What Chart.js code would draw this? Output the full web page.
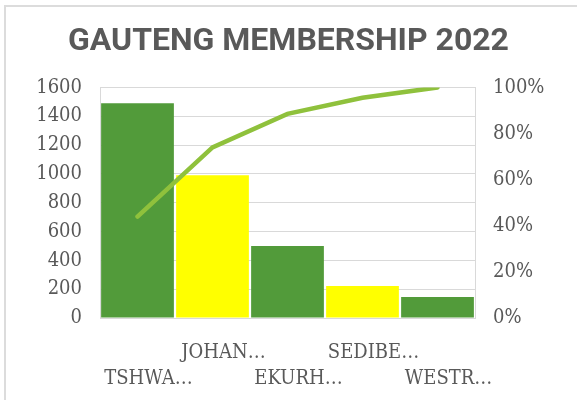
<!DOCTYPE html>
<html>
<head>
<meta charset="utf-8">
<script src="https://cdn.jsdelivr.net/npm/chart.js@4"></script>
<style>
    html, body { margin: 0; padding: 0; background: #fff; }
    #wrap { position: relative; width: 577px; height: 400px; }
    #frame { position: absolute; left: 4px; top: 5px; right: 0; bottom: 0;
             border-top: 2px solid #dcdcdc; border-left: 2px solid #dcdcdc; }
    canvas { position: absolute; left: 0; top: 0; }
</style>
</head>
<body>
<div id="wrap">
    <div id="frame"></div>
    <canvas id="paretoChart" width="577" height="400"></canvas>
</div>
<script>
// --- Data ---
const regions = ["TSHWANE", "JOHANNESBURG", "EKURHULENI", "SEDIBENG", "WESTRAND"];
const shownLabels = ["TSHWA…", "JOHAN…", "EKURH…", "SEDIBE…", "WESTR…"];
const members = [1490, 990, 500, 222, 145];
const cumulativePct = [44, 74, 88.5, 95.5, 100];
const memberTicks = [0, 200, 400, 600, 800, 1000, 1200, 1400, 1600];
const pctTicks = [0, 20, 40, 60, 80, 100];

const GREEN = "#529b3a";
const YELLOW = "#ffff00";
const LINE = "#8fc13c";
const TEXT = "#595959";
const GRID = "#d9d9d9";
const tickFont = { family: "'DejaVu Serif Condensed', 'DejaVu Serif', serif", size: 20, lineHeight: 1.3 };

// staggered labels: even index on 2nd row, odd index on 1st row
const staggered = shownLabels.map((l, i) => i % 2 === 0 ? ["", l] : [l, ""]);

const ctx = document.getElementById("paretoChart").getContext("2d");
new Chart(ctx, {
    data: {
        labels: staggered,
        datasets: [
            {
                type: "line",
                label: "Cumulative %",
                data: cumulativePct,
                yAxisID: "y1",
                borderColor: LINE,
                borderWidth: 4.5,
                borderCapStyle: "round",
                pointRadius: 0,
                tension: 0,
                order: 0
            },
            {
                type: "bar",
                label: "Members",
                data: members,
                yAxisID: "y",
                backgroundColor: members.map((v, i) => i % 2 === 0 ? GREEN : YELLOW),
                barPercentage: 0.97,
                categoryPercentage: 1,
                order: 1
            }
        ]
    },
    options: {
        responsive: false,
        animation: false,
        layout: { padding: 0 },
        plugins: {
            legend: { display: false },
            tooltip: { enabled: false },
            title: {
                display: true,
                text: "GAUTENG MEMBERSHIP 2022",
                color: TEXT,
                font: { family: "Roboto, 'Open Sans', sans-serif", size: 32, weight: "bold", lineHeight: 1.2 },
                padding: { top: 23, bottom: 26 }
            }
        },
        scales: {
            x: {
                grid: { display: false },
                border: { display: false },
                ticks: { color: TEXT, font: tickFont, padding: 14, labelOffset: 11, autoSkip: false, maxRotation: 0 },
                afterFit: s => { s.height = 82; }
            },
            y: {
                position: "left",
                min: 0,
                max: 1600,
                afterBuildTicks: s => { s.ticks = memberTicks.map(v => ({ value: v })); },
                grid: { color: GRID, drawTicks: false },
                border: { display: true, color: GRID },
                ticks: { color: TEXT, font: tickFont, padding: 18, autoSkip: false, callback: v => String(v) },
                afterFit: s => { s.width = 100; }
            },
            y1: {
                position: "right",
                min: 0,
                max: 100,
                afterBuildTicks: s => { s.ticks = pctTicks.map(v => ({ value: v })); },
                grid: { display: false, drawTicks: false },
                border: { display: true, color: GRID },
                ticks: { color: TEXT, font: tickFont, padding: 18, autoSkip: false, callback: v => v + "%" },
                afterFit: s => { s.width = 102; }
            }
        }
    }
});
</script>
</body>
</html>
